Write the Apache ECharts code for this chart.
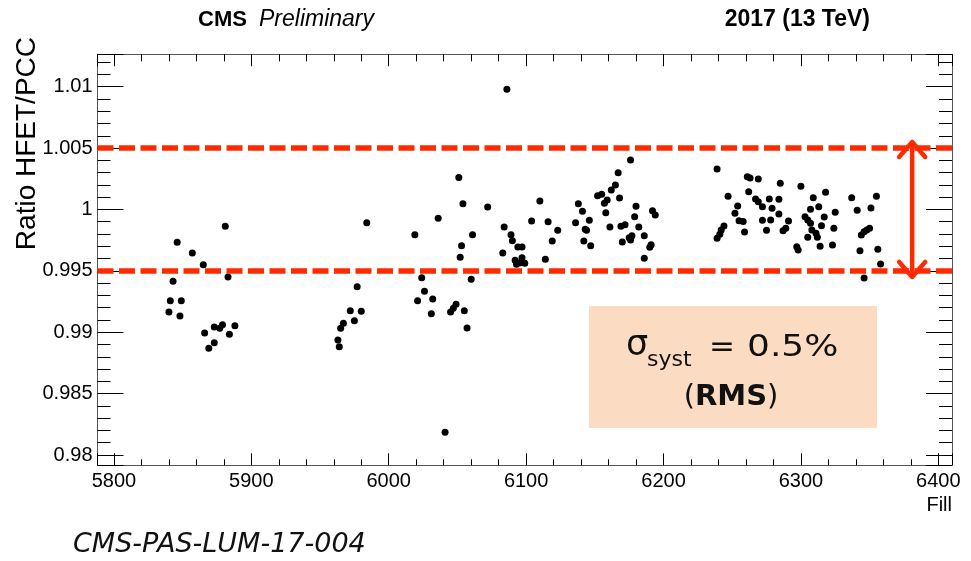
<!DOCTYPE html>
<html>
<head>
<meta charset="utf-8">
<script src="https://cdn.jsdelivr.net/npm/echarts@6/dist/echarts.min.js"></script>
<style>
  html, body { margin: 0; padding: 0; background: #fff; }
  #c { width: 971px; height: 561px; }
</style>
</head>
<body>
<div id="c"></div>
<script>
// HFET / PCC luminosity ratio per LHC fill, 2017 running.
// Fill groups (fill number, ratio).
const fillsA  = [5881, 5846, 5857, 5865, 5883, 5843, 5841, 5849, 5840, 5848, 5866, 5873, 5877, 5879, 5888, 5884, 5873, 5869];
const ratiosA = [0.99863, 0.99733, 0.99645, 0.99550, 0.99450, 0.99415, 0.99257, 0.99257, 0.99165, 0.99132, 0.98994, 0.99043, 0.99032, 0.99061, 0.99053, 0.98983, 0.98915, 0.98869];

const fillsB  = [5984, 5977, 5972, 5980, 5975, 5967, 5965, 5963, 5964, 6019, 6036, 6024, 6026, 6021, 6032, 6031, 6041, 6045, 6047, 6049, 6055, 6057, 6060, 6052, 6053, 6061, 6054, 6051, 6072, 6084, 6083];
const ratiosB = [0.99892, 0.99371, 0.99175, 0.99170, 0.99094, 0.99073, 0.99032, 0.98937, 0.98882, 0.99794, 0.99928, 0.99444, 0.99333, 0.99257, 0.99271, 0.99151, 0.98185, 0.99165, 0.99195, 0.99228, 0.99175, 0.99035, 0.99431, 0.99610, 0.99705, 0.99794, 1.00047, 1.00260, 1.00020, 0.99857, 0.99645];

const fillsC  = [6086, 6089, 6090, 6094, 6097, 6092, 6093, 6097, 6099, 6096, 6104, 6110, 6116, 6114, 6119, 6123, 6136, 6138, 6141, 6143, 6144, 6146, 6142, 6147, 6152, 6155, 6157, 6159, 6158, 6162, 6165, 6167, 6168, 6176, 6161, 6169, 6172, 6170, 6175, 6177, 6176, 6180, 6179, 6182, 6186, 6186, 6190, 6191, 6192, 6194];
const ratiosC = [1.00979, 0.99794, 0.99746, 0.99694, 0.99694, 0.99586, 0.99553, 0.99607, 0.99561, 0.99566, 0.99906, 1.00069, 0.99900, 0.99594, 0.99743, 0.99830, 0.99892, 1.00047, 0.99985, 0.99838, 0.99830, 0.99912, 0.99743, 0.99705, 1.00112, 1.00124, 1.00050, 1.00077, 0.99974, 1.00159, 1.00199, 1.00300, 1.00093, 1.00403, 0.99857, 0.99863, 0.99876, 0.99735, 0.99770, 0.99786, 0.99751, 1.00026, 0.99941, 0.99857, 0.99786, 0.99602, 0.99692, 0.99713, 0.99990, 0.99955];

const fillsD  = [6239, 6261, 6263, 6269, 6285, 6300, 6318, 6247, 6262, 6254, 6252, 6255, 6258, 6259, 6244, 6242, 6241, 6239, 6267, 6269, 6272, 6277, 6279, 6284, 6284, 6272, 6278, 6275, 6291, 6287, 6289, 6297, 6298, 6303, 6305, 6307, 6309, 6313, 6307, 6308, 6311, 6312, 6305, 6317, 6315, 6314, 6325, 6324, 6323, 6337, 6341, 6344, 6346, 6348, 6350, 6343, 6346, 6351, 6355, 6356, 6358];
const ratiosD = [1.00330, 1.00267, 1.00256, 1.00248, 1.00213, 1.00189, 1.00140, 1.00107, 1.00145, 1.00028, 0.99969, 0.99909, 0.99903, 0.99816, 0.99865, 0.99833, 0.99798, 0.99765, 1.00085, 1.00063, 1.00023, 1.00085, 1.00010, 0.99963, 1.00083, 0.99912, 0.99914, 0.99830, 0.99906, 0.99827, 0.99847, 0.99697, 0.99670, 0.99941, 0.99914, 1.00001, 1.00096, 1.00023, 0.99887, 0.99833, 0.99806, 0.99773, 0.99773, 0.99939, 0.99868, 0.99700, 0.99977, 0.99847, 0.99711, 1.00096, 0.99993, 0.99792, 0.99819, 0.99833, 0.99847, 0.99664, 0.99442, 1.00012, 1.00107, 0.99676, 0.99556];

// Axis ranges and tick labels
const xRange = [5788, 6410];
const yRange = [0.97916, 1.01264];
const xTickLabels = ['5800', '5900', '6000', '6100', '6200', '6300', '6400'];
const yTickLabels = ['0.98', '0.985', '0.99', '0.995', '1', '1.005', '1.01'];

// +-0.5% systematic band and its double arrow
const bandLevels = [0.995, 1.005];
const arrowFill = 6381;
const arrowEnds = [1.0055, 0.9945];

const RED = '#ff2a00';
const ROOT_FONT = '"Liberation Sans", Arial, Helvetica, sans-serif';
const SLIDE_FONT = '"DejaVu Sans", sans-serif';

function zip(xs, ys) { return xs.map((x, i) => [x, ys[i]]); }
const points = [].concat(zip(fillsA, ratiosA), zip(fillsB, ratiosB), zip(fillsC, ratiosC), zip(fillsD, ratiosD));

const fmtX = v => { const s = String(Math.round(v)); return xTickLabels.includes(s) ? s : ''; };
const fmtY = v => { const s = String(parseFloat(v.toFixed(4))); return yTickLabels.includes(s) ? s : ''; };

const frameLine = { show: true, onZero: false, lineStyle: { color: '#555', width: 1 } };

function xAxisDef(pos, showLabels) {
  return {
    type: 'value', position: pos, min: xRange[0], max: xRange[1], splitNumber: 5,
    axisLine: frameLine,
    axisTick: { show: true, inside: true, length: 12, lineStyle: { color: '#000', width: 1 } },
    minorTick: { show: true, splitNumber: 5, length: pos === 'top' ? 7 : 6, lineStyle: { color: '#000', width: 1 } },
    splitLine: { show: false }, minorSplitLine: { show: false },
    axisLabel: { show: showLabels, fontFamily: ROOT_FONT, fontSize: 20, color: '#000', margin: 6, formatter: fmtX }
  };
}
function yAxisDef(pos, showLabels) {
  return {
    type: 'value', position: pos, min: yRange[0], max: yRange[1], splitNumber: 5,
    axisLine: frameLine,
    axisTick: { show: true, inside: true, length: 26, lineStyle: { color: '#000', width: 1 } },
    minorTick: { show: true, splitNumber: 5, length: 13, lineStyle: { color: '#000', width: 1 } },
    splitLine: { show: false }, minorSplitLine: { show: false },
    axisLabel: { show: showLabels, fontFamily: ROOT_FONT, fontSize: 20, color: '#000', margin: 5, formatter: fmtY }
  };
}

const xBottom = xAxisDef('bottom', true);
xBottom.name = 'Fill';
xBottom.nameLocation = 'end';
xBottom.nameGap = 0;
xBottom.nameTextStyle = { fontFamily: ROOT_FONT, fontSize: 20, color: '#000', align: 'right', verticalAlign: 'top', padding: [30, 0, 0, 0] };

const chart = echarts.init(document.getElementById('c'));
chart.setOption({
  animation: false,
  backgroundColor: '#fff',
  grid: { left: 97.5, right: 19, top: 54.3, bottom: 95.7, containLabel: false, outerBoundsMode: 'none' },
  xAxis: [xBottom, xAxisDef('top', false)],
  yAxis: [yAxisDef('left', true), yAxisDef('right', false)],
  series: [{
    type: 'scatter',
    xAxisIndex: 0, yAxisIndex: 0,
    data: points,
    symbol: 'circle', symbolSize: 7,
    itemStyle: { color: '#000', opacity: 1 },
    silent: true,
    markLine: {
      silent: true, symbol: 'none', animation: false, precision: 4,
      label: { show: false },
      lineStyle: { color: RED, width: 5.5, type: [16, 5.5], opacity: 1 },
      data: bandLevels.map(v => ({ yAxis: v }))
    }
  }]
});

// Annotations: double arrow, experiment labels, sigma box, note reference
const arrowTop = chart.convertToPixel({ xAxisIndex: 0, yAxisIndex: 0 }, [arrowFill, arrowEnds[0]]);
const arrowBot = chart.convertToPixel({ xAxisIndex: 0, yAxisIndex: 0 }, [arrowFill, arrowEnds[1]]);
const hw = 13, hh = 15;
const arrowStyle = { stroke: RED, lineWidth: 4.5, fill: null, lineCap: 'round', lineJoin: 'round' };

chart.setOption({
  graphic: [
    { type: 'line', shape: { x1: arrowTop[0], y1: arrowTop[1] + 1, x2: arrowBot[0], y2: arrowBot[1] - 1 }, style: arrowStyle, z: 10 },
    { type: 'polyline', shape: { points: [[arrowTop[0] - hw, arrowTop[1] + hh], [arrowTop[0], arrowTop[1]], [arrowTop[0] + hw, arrowTop[1] + hh]] }, style: arrowStyle, z: 10 },
    { type: 'polyline', shape: { points: [[arrowBot[0] - hw, arrowBot[1] - hh], [arrowBot[0], arrowBot[1]], [arrowBot[0] + hw, arrowBot[1] - hh]] }, style: arrowStyle, z: 10 },

    { type: 'text', x: 198, y: 20, style: { text: 'CMS', font: 'bold 22px ' + ROOT_FONT, fill: '#000', align: 'left', verticalAlign: 'middle' } },
    { type: 'text', x: 259, y: 20, style: { text: 'Preliminary', font: 'italic 23px ' + ROOT_FONT, fill: '#000', align: 'left', verticalAlign: 'middle' } },
    { type: 'text', x: 870, y: 20, style: { text: '2017 (13 TeV)', font: 'bold 23px ' + ROOT_FONT, fill: '#000', align: 'right', verticalAlign: 'middle' } },

    { type: 'text', x: 27, y: 37, rotation: Math.PI / 2, style: { text: 'Ratio HFET/PCC', font: '28px ' + ROOT_FONT, fill: '#000', align: 'right', verticalAlign: 'middle' } },

    { type: 'rect', shape: { x: 589, y: 306, width: 288, height: 122 }, style: { fill: '#FBDCC2' }, z: 5 },
    { type: 'text', x: 626, y: 346, z: 6, style: { text: 'σ', font: '35px ' + SLIDE_FONT, fill: '#111', align: 'left', verticalAlign: 'middle' } },
    { type: 'text', x: 647, y: 360, z: 6, style: { text: 'syst', font: '22px ' + SLIDE_FONT, fill: '#111', align: 'left', verticalAlign: 'middle' } },
    { type: 'text', x: 709, y: 347.5, z: 6, style: { text: '=', font: '31px ' + SLIDE_FONT, fill: '#111', align: 'left', verticalAlign: 'middle' } },
    { type: 'text', x: 747, y: 347.5, scaleX: 1.16, z: 6, style: { text: '0.5%', font: '31px ' + SLIDE_FONT, fill: '#111', align: 'left', verticalAlign: 'middle' } },
    { type: 'text', x: 731, y: 397, z: 6, style: { text: '({b|RMS})', font: '29px ' + SLIDE_FONT, fill: '#111', align: 'center', verticalAlign: 'middle',
      rich: { b: { fontFamily: SLIDE_FONT, fontSize: 29, fontWeight: 'bold', fill: '#111' } } } },

    { type: 'text', x: 73, y: 545, style: { text: 'CMS-PAS-LUM-17-004', font: 'italic 27px ' + SLIDE_FONT, fill: '#111', align: 'left', verticalAlign: 'middle' } }
  ]
});
</script>
</body>
</html>
